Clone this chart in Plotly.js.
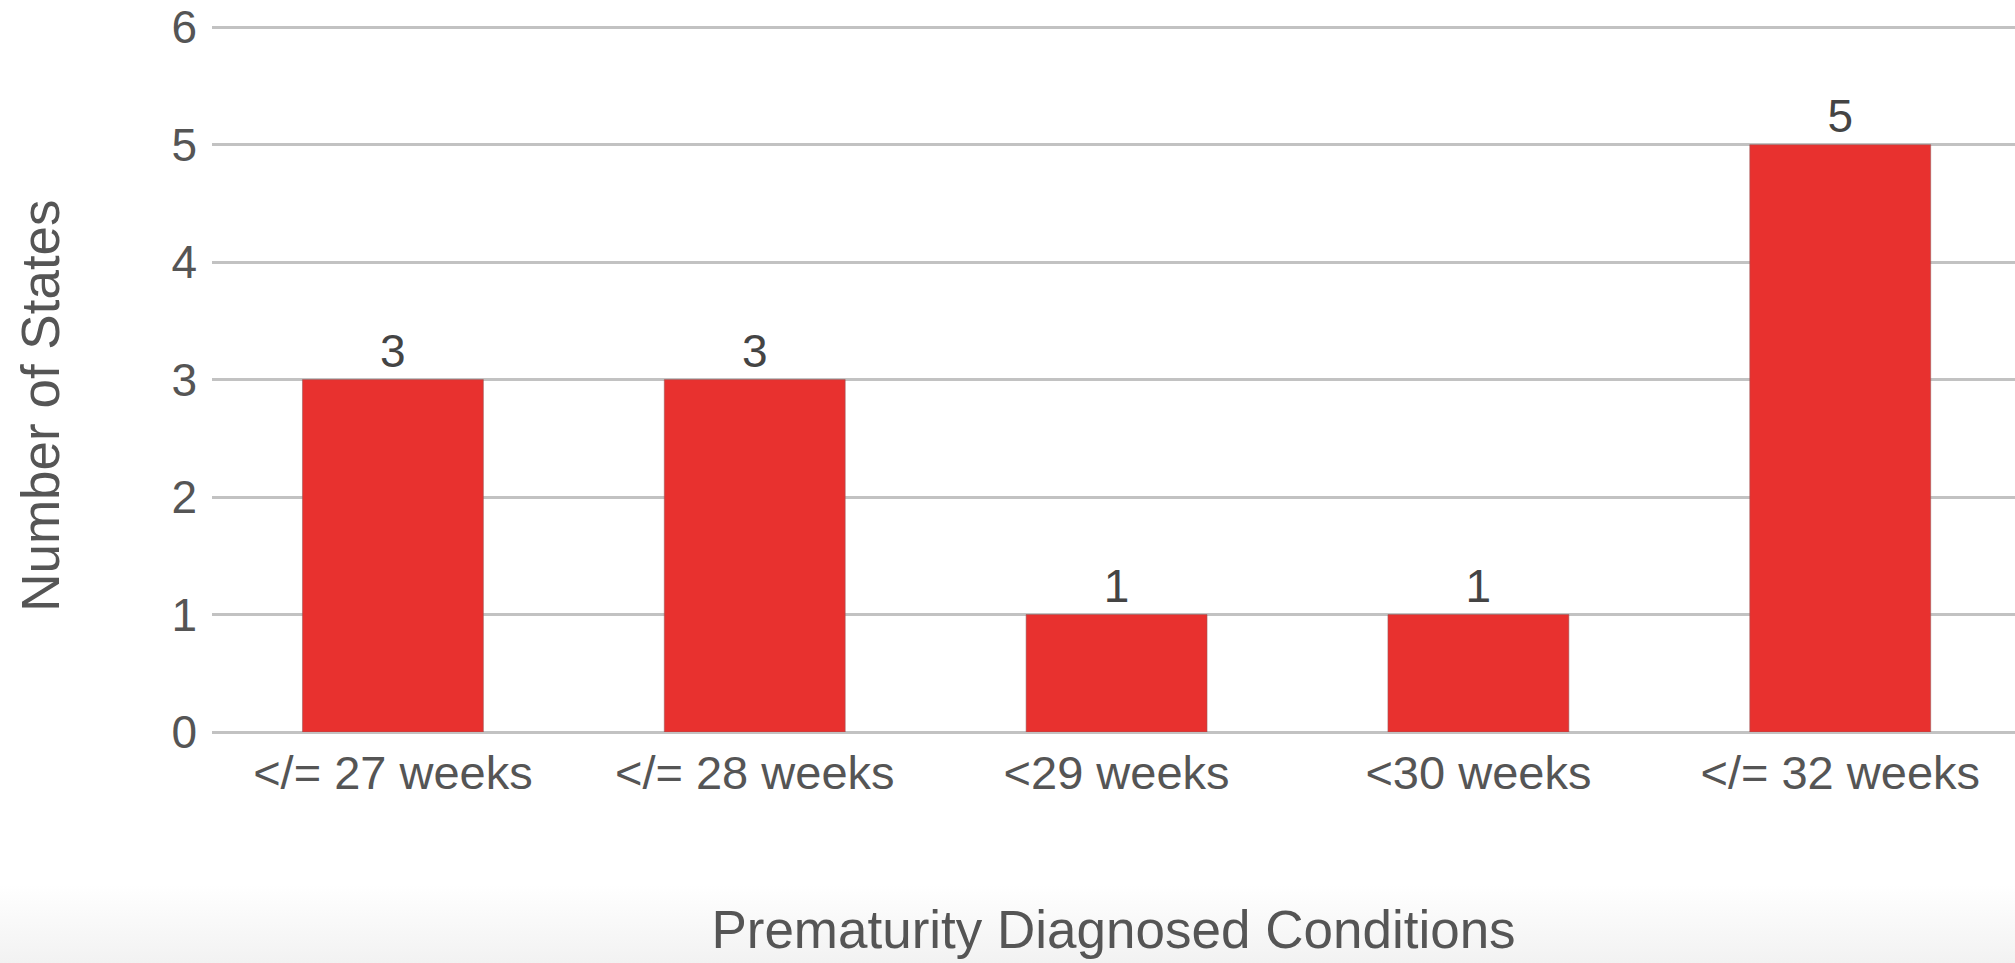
<!DOCTYPE html>
<html>
<head>
<meta charset="utf-8">
<script src="https://cdn.plot.ly/plotly-3.0.1.min.js"></script>
<style>
  html, body { margin: 0; padding: 0; overflow: hidden; }
  body {
    width: 2015px; height: 963px;
    background: linear-gradient(to bottom, #ffffff 0px, #ffffff 885px, #f2f2f2 963px);
  }
  #chart { width: 2015px; height: 963px; }
</style>
</head>
<body>
<div id="chart"></div>
<script>
// Gestational-age thresholds used in state prematurity definitions
const categories = ['</= 27 weeks', '</= 28 weeks', '<29 weeks', '<30 weeks', '</= 32 weeks'];
// Number of states using each threshold
const stateCounts = [3, 3, 1, 1, 5];
// Value axis ticks
const yTicks = [0, 1, 2, 3, 4, 5, 6];
const yAxisTitle = 'Number of States';
const xAxisTitle = 'Prematurity Diagnosed Conditions';

const escapeText = s => s.replace(/</g, '&lt;').replace(/>/g, '&gt;');

const FONT = '"Liberation Sans", Arial, sans-serif';
const TEXT_COLOR = '#555555';

const trace = {
  type: 'bar',
  x: categories,
  y: stateCounts,
  text: stateCounts.map(String),
  textposition: 'outside',
  cliponaxis: false,
  textfont: { family: FONT, size: 46, color: '#444444' },
  marker: {
    color: '#e8312f',
    line: { color: 'rgba(150,90,90,0.55)', width: 1 }
  },
  hoverinfo: 'x+y'
};

const layout = {
  width: 2015,
  height: 963,
  margin: { l: 212, r: 0, t: 26, b: 231, pad: 0 },
  paper_bgcolor: 'rgba(0,0,0,0)',
  plot_bgcolor: 'rgba(0,0,0,0)',
  showlegend: false,
  bargap: 0.5,
  font: { family: FONT, color: TEXT_COLOR },
  xaxis: {
    type: 'category',
    range: [-0.5, 4.483],
    tickvals: categories,
    ticktext: categories.map(escapeText),
    tickfont: { family: FONT, size: 47, color: TEXT_COLOR },
    ticks: '',
    showgrid: false,
    showline: false,
    zeroline: false,
    automargin: false,
    ticklabelstandoff: 9,
    title: {
      text: xAxisTitle,
      font: { family: FONT, size: 53, color: TEXT_COLOR },
      standoff: 112
    }
  },
  yaxis: {
    range: [0, 6.01],
    tickvals: yTicks,
    ticktext: yTicks.map(String),
    tickfont: { family: FONT, size: 46, color: TEXT_COLOR },
    ticks: '',
    showgrid: true,
    gridcolor: '#c2c2c2',
    gridwidth: 3,
    zeroline: true,
    zerolinecolor: '#c2c2c2',
    zerolinewidth: 3,
    showline: false,
    automargin: false,
    ticklabelstandoff: 14
  },
  // Value-axis title, set a little below the middle of the plot
  annotations: [{
    text: yAxisTitle,
    xref: 'paper', yref: 'paper',
    x: 0, y: 0.462,
    xanchor: 'center', yanchor: 'middle',
    xshift: -171,
    textangle: -90,
    showarrow: false,
    font: { family: FONT, size: 53, color: TEXT_COLOR }
  }]
};

Plotly.newPlot('chart', [trace], layout, { displayModeBar: false, staticPlot: true });
</script>
</body>
</html>
